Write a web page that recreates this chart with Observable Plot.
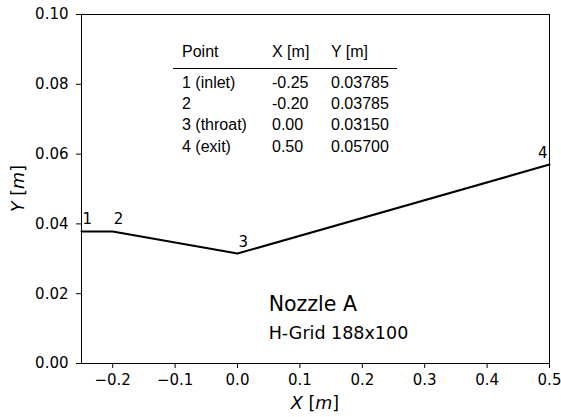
<!DOCTYPE html>
<html>
<head>
<meta charset="utf-8">
<script src="https://cdn.jsdelivr.net/npm/d3@7"></script>
<script src="https://cdn.jsdelivr.net/npm/@observablehq/plot@0.6"></script>
<style>
  html, body { margin: 0; padding: 0; background: #fff; }
  #chart svg { display: block; }
</style>
</head>
<body>
<div id="chart"></div>
<script>
// Contour points of the nozzle
const pointIds = ["1", "2", "3", "4"];
const pointNames = ["1 (inlet)", "2", "3 (throat)", "4 (exit)"];
const xVals = [-0.25, -0.20, 0.00, 0.50];
const yVals = [0.03785, 0.03785, 0.03150, 0.05700];
const xTableText = ["-0.25", "-0.20", "0.00", "0.50"];
const yTableText = ["0.03785", "0.03785", "0.03150", "0.05700"];
const tableHeader = ["Point", "X [m]", "Y [m]"];

const xTicks = [-0.2, -0.1, 0.0, 0.1, 0.2, 0.3, 0.4, 0.5];
const yTicks = [0.00, 0.02, 0.04, 0.06, 0.08, 0.10];

const titleText = ["Nozzle A"];
const subtitleText = ["H-Grid 188x100"];
const titleX = [0.05];
const titleY = [0.015];
const subtitleY = [0.007];

const points = pointIds.map((id, i) => ({id, x: xVals[i], y: yVals[i]}));
const titles = titleText.map((t, i) => ({t, x: titleX[i], y: titleY[i]}));
const subtitles = subtitleText.map((t, i) => ({t, x: titleX[i], y: subtitleY[i]}));

const fmtMinus = (d, n) => (d < 0 ? "\u2212" : "") + Math.abs(d).toFixed(n);

const W = 561, H = 417;
const mL = 81, mR = 12, mT = 14, mB = 54;

const plot = Plot.plot({
  width: W,
  height: H,
  marginLeft: mL,
  marginRight: mR,
  marginTop: mT,
  marginBottom: mB,
  style: {fontFamily: "'DejaVu Sans', sans-serif", fontSize: "15px", color: "#000", background: "#fff"},
  x: {domain: [-0.25, 0.5]},
  y: {domain: [0, 0.1]},
  marks: [
    Plot.axisX({ticks: xTicks, tickFormat: d => fmtMinus(d, 1), tickSize: 5, tickPadding: 6, label: null, stroke: "#000"}),
    Plot.axisY({ticks: yTicks, tickFormat: d => fmtMinus(d, 2), tickSize: 5, tickPadding: 8, label: null, stroke: "#000"}),
    Plot.frame({stroke: "#000", strokeWidth: 1}),
    Plot.line(points, {x: "x", y: "y", stroke: "#000", strokeWidth: 2}),
    Plot.text(points, {filter: d => d.id !== "4", x: "x", y: "y", text: "id", textAnchor: "start", lineAnchor: "bottom", dx: 1, dy: -7, fill: "#000"}),
    Plot.text(points, {filter: d => d.id === "4", x: "x", y: "y", text: "id", textAnchor: "end", lineAnchor: "bottom", dx: -2, dy: -7, fill: "#000"}),
    Plot.text(titles, {x: "x", y: "y", text: "t", textAnchor: "start", lineAnchor: "bottom", fontSize: 20.5, fill: "#000"}),
    Plot.text(subtitles, {x: "x", y: "y", text: "t", textAnchor: "start", lineAnchor: "bottom", fontSize: 17.5, fill: "#000"})
  ]
});

document.getElementById("chart").appendChild(plot);

const svg = d3.select(plot);

// Axis labels with italic math symbols
const xl = svg.append("text")
  .attr("x", (mL + W - mR) / 2).attr("y", 409)
  .attr("text-anchor", "middle")
  .style("font-family", "'DejaVu Sans', sans-serif").style("font-size", "17.5px").attr("fill", "#000");
xl.append("tspan").style("font-style", "italic").text("X");
xl.append("tspan").text(" [");
xl.append("tspan").style("font-style", "italic").text("m");
xl.append("tspan").text("]");

const yl = svg.append("text")
  .attr("transform", `translate(24,${(mT + H - mB) / 2}) rotate(-90)`)
  .attr("text-anchor", "middle")
  .style("font-family", "'DejaVu Sans', sans-serif").style("font-size", "17.5px").attr("fill", "#000");
yl.append("tspan").style("font-style", "italic").text("Y");
yl.append("tspan").text(" [");
yl.append("tspan").style("font-style", "italic").text("m");
yl.append("tspan").text("]");

// Inset table
const colX = [182, 272, 331];
const headerBaseline = 57;
const rowBaselines = [88, 109, 130, 151.5];
const tbl = svg.append("g")
  .attr("text-anchor", "start")
  .style("text-anchor", "start")
  .style("font-family", "'Liberation Sans', Arial, sans-serif").style("font-size", "16px").attr("fill", "#000");
tableHeader.forEach((h, j) => {
  tbl.append("text").attr("x", colX[j]).attr("y", headerBaseline).attr("text-anchor", "start").text(h);
});
tbl.append("line").attr("x1", 173).attr("x2", 397).attr("y1", 68.5).attr("y2", 68.5)
  .attr("stroke", "#000").attr("stroke-width", 1);
pointNames.forEach((n, i) => {
  const row = [n, xTableText[i], yTableText[i]];
  row.forEach((c, j) => {
    tbl.append("text").attr("x", colX[j]).attr("y", rowBaselines[i]).attr("text-anchor", "start").text(c);
  });
});
</script>
</body>
</html>
